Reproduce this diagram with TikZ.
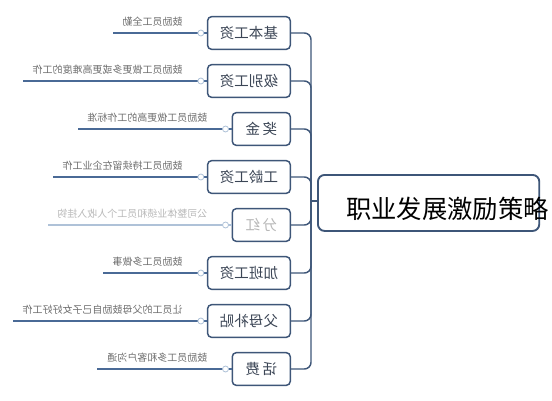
\documentclass[tikz,border=0pt]{standalone}
\usepackage{fontspec}
\usepackage{graphicx}
\newfontfamily\cjk{Noto Sans CJK SC}
\definecolor{boxc}{HTML}{3E5678}
\definecolor{linec}{HTML}{4A6A96}
\definecolor{lightc}{HTML}{AFC2D8}
\definecolor{txtc}{HTML}{3C4656}
\definecolor{labc}{HTML}{6E6E6E}
\definecolor{faintc}{HTML}{B8B8B8}
\tikzset{
  cat/.style={draw=boxc, line width=1.1pt, rounded corners=3pt, minimum height=24.5pt,
    inner sep=0pt, font=\cjk\fontsize{10.9}{12}\selectfont, text=txtc, fill=white, anchor=east},
  wide/.style={cat, minimum width=62pt},
  narrow/.style={cat, minimum width=43.5pt},
  lab/.style={font=\cjk\fontsize{7.5}{9}\selectfont, text=labc, anchor=south east, inner sep=0pt},
  leaf/.style={draw=linec, line width=1pt},
  dotc/.style={circle, draw=lightc, fill=white, line width=0.6pt, minimum size=4.5pt, inner sep=0pt},
  branch/.style={draw=boxc, line width=1.1pt, rounded corners=5pt},
  rootbox/.style={draw=boxc, line width=1.4pt, rounded corners=5pt, minimum width=166pt,
    minimum height=42pt, anchor=north west, inner sep=0pt}
}
\begin{document}
\begin{tikzpicture}[x=0.75pt,y=-0.75pt]
\useasboundingbox (0,0) rectangle (552,400);
% root
\node[rootbox] (root) at (317,174) {};
\coordinate (rj) at (311,201);
% category boxes
\node[wide]   (b1) at (291,33)  {\reflectbox{基本工资}};
\node[wide]   (b2) at (291,81)  {\reflectbox{级别工资}};
\node[narrow] (b3) at (291,129) {\reflectbox{奖\,金}};
\node[wide]   (b4) at (291,177) {\reflectbox{工龄工资}};
\node[narrow, text=faintc] (b5) at (291,225) {\reflectbox{分\,红}};
\node[wide]   (b6) at (291,273) {\reflectbox{加班工资}};
\node[wide]   (b7) at (291,321) {\reflectbox{父母补贴}};
\node[narrow] (b8) at (291,369) {\reflectbox{话\,费}};
% branches to trunk
\foreach \b in {b1,b2,b3,b4,b5,b6,b7,b8}{
  \draw[branch] (\b.east) -| (rj);
}
\draw[branch] (rj) -- (root.west |- rj);
% leaf labels
\coordinate (l1) at (113,33);
\coordinate (l2) at (23,81);
\coordinate (l3) at (78,129);
\coordinate (l4) at (53,177);
\coordinate (l5) at (48,225);
\coordinate (l6) at (103,273);
\coordinate (l7) at (13,321);
\coordinate (l8) at (97,369);
\foreach \i in {1,2,3,4,6,7,8}{
  \draw[leaf] (l\i) -- (b\i.west);
  \node[dotc] at ([xshift=-4.5pt]b\i.west) {};
}
\draw[leaf, draw=lightc] (l5) -- (b5.west);
\node[dotc] at ([xshift=-4.5pt]b5.west) {};
\node[lab] (t1) at ([xshift=-18pt, yshift=4.5pt]b1.west) {\reflectbox{鼓励员工全勤}};
\node[lab] (t2) at ([xshift=-18pt, yshift=4.5pt]b2.west) {\reflectbox{鼓励员工做更多或更高难度的工作}};
\node[lab] (t3) at ([xshift=-18pt, yshift=4.5pt]b3.west) {\reflectbox{鼓励员工做更高的工作标准}};
\node[lab] (t4) at ([xshift=-18pt, yshift=4.5pt]b4.west) {\reflectbox{鼓励员工持续留在企业工作}};
\node[lab, text=faintc] (t5) at ([xshift=-18pt, yshift=4.5pt]b5.west) {\reflectbox{公司整体业绩和员工个人收入挂钩}};
\node[lab] (t6) at ([xshift=-18pt, yshift=4.5pt]b6.west) {\reflectbox{鼓励员工多做事}};
\node[lab] (t7) at ([xshift=-18pt, yshift=4.5pt]b7.west) {\reflectbox{让员工的父母鼓励自己子女好好工作}};
\node[lab] (t8) at ([xshift=-18pt, yshift=4.5pt]b8.west) {\reflectbox{鼓励员工多和客户沟通}};
% overlay title
\node[font=\cjk\fontsize{19}{21}\selectfont, text=black, anchor=west, inner sep=0pt] (title) at (346,209) {职业发展激励策略};
\end{tikzpicture}
\end{document}
